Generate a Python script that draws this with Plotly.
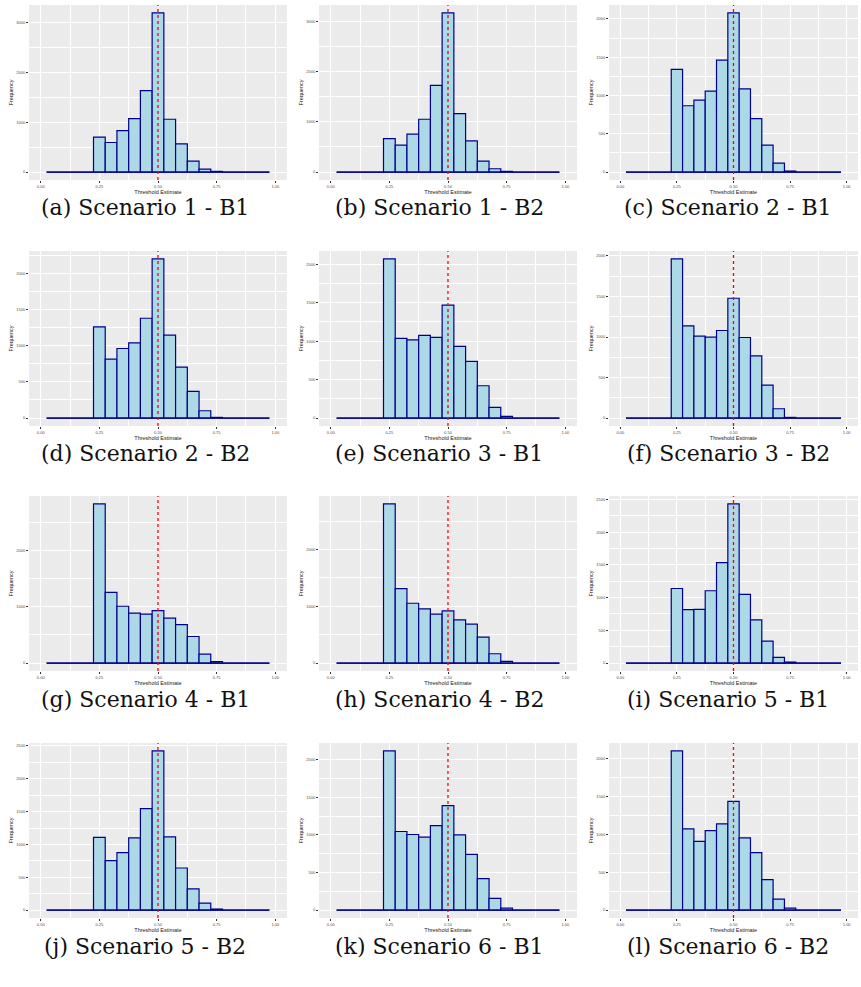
import plotly.graph_objects as go

# Histogram bins (centres, width 0.05) shared by every panel
BIN_CENTERS = [0.05, 0.10, 0.15, 0.20, 0.25, 0.30, 0.35, 0.40, 0.45, 0.50,
               0.55, 0.60, 0.65, 0.70, 0.75, 0.80, 0.85, 0.90, 0.95]
BIN_WIDTH = 0.05
TRUE_THRESHOLD = 0.5

X_TICKS = [0.00, 0.25, 0.50, 0.75, 1.00]
X_TICK_LABELS = ["0.00", "0.25", "0.50", "0.75", "1.00"]

# Frequencies per bin for each scenario / design
counts_s1_b1 = [0, 0, 0, 0, 700, 593, 833, 1073, 1633, 3193, 1060, 567, 220, 60, 13, 0, 0, 0, 0]
counts_s1_b2 = [0, 0, 0, 0, 667, 535, 753, 1051, 1725, 3166, 1163, 621, 218, 66, 13, 0, 0, 0, 0]
counts_s2_b1 = [0, 0, 0, 0, 1342, 866, 939, 1056, 1463, 2078, 1087, 697, 351, 117, 13, 0, 0, 0, 0]
counts_s2_b2 = [0, 0, 0, 0, 1260, 814, 961, 1039, 1379, 2198, 1145, 703, 368, 101, 9, 0, 0, 0, 0]
counts_s3_b1 = [0, 0, 0, 0, 2069, 1035, 1017, 1074, 1048, 1468, 931, 736, 420, 139, 22, 0, 0, 0, 0]
counts_s3_b2 = [0, 0, 0, 0, 1963, 1138, 1010, 998, 1080, 1478, 994, 768, 407, 115, 8, 0, 0, 0, 0]
counts_s4_b1 = [0, 0, 0, 0, 2834, 1260, 1012, 888, 870, 935, 799, 686, 473, 160, 24, 0, 0, 0, 0]
counts_s4_b2 = [0, 0, 0, 0, 2801, 1310, 1053, 953, 860, 918, 760, 684, 456, 164, 29, 0, 0, 0, 0]
counts_s5_b1 = [0, 0, 0, 0, 1139, 815, 820, 1104, 1534, 2430, 1048, 658, 334, 86, 15, 0, 0, 0, 0]
counts_s5_b2 = [0, 0, 0, 0, 1106, 753, 874, 1101, 1545, 2424, 1116, 641, 323, 106, 15, 0, 0, 0, 0]
counts_s6_b1 = [0, 0, 0, 0, 2115, 1044, 1004, 969, 1123, 1388, 1000, 740, 418, 154, 26, 0, 0, 0, 0]
counts_s6_b2 = [0, 0, 0, 0, 2101, 1072, 906, 1050, 1138, 1435, 954, 757, 403, 144, 26, 0, 0, 0, 0]

captions = ["(a) Scenario 1 - B1", "(b) Scenario 1 - B2", "(c) Scenario 2 - B1",
            "(d) Scenario 2 - B2", "(e) Scenario 3 - B1", "(f) Scenario 3 - B2",
            "(g) Scenario 4 - B1", "(h) Scenario 4 - B2", "(i) Scenario 5 - B1",
            "(j) Scenario 5 - B2", "(k) Scenario 6 - B1", "(l) Scenario 6 - B2"]
y_tick_steps = [1000, 1000, 500, 500, 500, 500, 1000, 1000, 500, 500, 500, 500]

panels = [counts_s1_b1, counts_s1_b2, counts_s2_b1, counts_s2_b2,
          counts_s3_b1, counts_s3_b2, counts_s4_b1, counts_s4_b2,
          counts_s5_b1, counts_s5_b2, counts_s6_b1, counts_s6_b2]

# Page geometry (pixels)
W, H = 861, 987
COLS = [(29, 287), (319, 577), (609, 858)]
ROW_TOPS = [5, 251, 496, 743]
PANEL_H = 175
CAPTION_X = [145, 439, 728]
CAPTION_GAP = 28

FILL = "#ADD8E6"
EDGE = "#00008B"
PANEL_BG = "#EBEBEB"
TICK_FONT = dict(family="Liberation Sans, Arial, sans-serif", size=4, color="#4D4D4D")
TITLE_FONT = dict(family="Liberation Sans, Arial, sans-serif", size=5.5, color="#1A1A1A")

fig = go.Figure()
layout = dict(
    width=W, height=H, margin=dict(l=0, r=0, t=0, b=0),
    paper_bgcolor="white", plot_bgcolor=PANEL_BG, showlegend=False,
    shapes=[], annotations=[],
)

left_edge = BIN_CENTERS[0] - BIN_WIDTH / 2
right_edge = BIN_CENTERS[-1] + BIN_WIDTH / 2

for i, counts in enumerate(panels):
    r, c = divmod(i, 3)
    n = i + 1
    xa = "x" if n == 1 else f"x{n}"
    ya = "y" if n == 1 else f"y{n}"
    x0, x1 = COLS[c]
    top = ROW_TOPS[r]
    bottom = top + PANEL_H
    ymax = max(counts)
    step = y_tick_steps[i]
    yt = list(range(0, int(ymax * 1.05) + 1, step))

    fig.add_trace(go.Bar(
        x=BIN_CENTERS, y=counts, width=BIN_WIDTH,
        marker=dict(color=FILL, line=dict(color=EDGE, width=1.2)),
        xaxis=xa, yaxis=ya, hoverinfo="x+y",
    ))
    # empty bins collapse to a flat outline along the baseline
    fig.add_trace(go.Scatter(
        x=[left_edge, right_edge], y=[0, 0], mode="lines",
        line=dict(color=EDGE, width=1.2), xaxis=xa, yaxis=ya, hoverinfo="skip",
    ))

    layout["xaxis" if n == 1 else f"xaxis{n}"] = dict(
        domain=[x0 / W, x1 / W], anchor=ya, range=[-0.05, 1.05],
        tickvals=X_TICKS, ticktext=X_TICK_LABELS, tickfont=TICK_FONT,
        ticks="outside", ticklen=2, tickwidth=0.6, tickcolor="#333333",
        showgrid=True, gridcolor="white", gridwidth=1.1,
        minor=dict(showgrid=True, gridcolor="white", gridwidth=0.5,
                   tick0=0.125, dtick=0.25),
        zeroline=False, showline=False, fixedrange=True,
        title=dict(text="Threshold Estimate", font=TITLE_FONT, standoff=2),
    )
    layout["yaxis" if n == 1 else f"yaxis{n}"] = dict(
        domain=[1 - bottom / H, 1 - top / H], anchor=xa,
        range=[-0.05 * ymax, 1.05 * ymax],
        tickvals=yt, ticktext=[str(v) for v in yt], tickfont=TICK_FONT,
        ticks="outside", ticklen=2, tickwidth=0.6, tickcolor="#333333",
        showgrid=True, gridcolor="white", gridwidth=1.1,
        minor=dict(showgrid=True, gridcolor="white", gridwidth=0.5,
                   tick0=step / 2, dtick=step),
        zeroline=False, showline=False, fixedrange=True,
        title=dict(text="Frequency", font=TITLE_FONT, standoff=2),
    )
    layout["shapes"].append(dict(
        type="line", xref=xa, yref=f"{ya} domain", x0=TRUE_THRESHOLD, x1=TRUE_THRESHOLD,
        y0=0, y1=1, line=dict(color="#FF0000", width=1.3, dash="dot"), layer="above",
    ))
    layout["annotations"].append(dict(
        text=captions[i], xref="paper", yref="paper",
        x=CAPTION_X[c] / W, y=1 - (bottom + CAPTION_GAP) / H,
        xanchor="center", yanchor="middle", showarrow=False,
        font=dict(family="DejaVu Serif, Liberation Serif, serif", size=22, color="#111111"),
    ))

fig.update_layout(**layout)
fig.write_html("out.html")
